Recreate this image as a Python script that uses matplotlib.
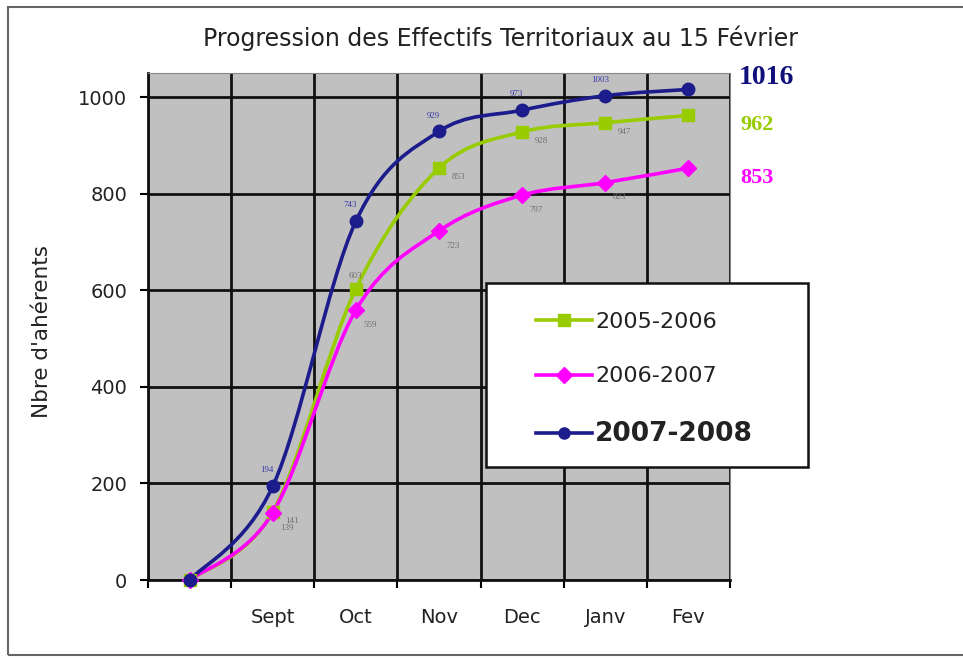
import matplotlib
matplotlib.use("Agg")
import matplotlib.pyplot as plt
from matplotlib.path import Path
from matplotlib.patches import PathPatch, Rectangle
from matplotlib.lines import Line2D

plt.rcParams['font.family'] = ['DejaVu Sans']

months = ['', 'Sept', 'Oct', 'Nov', 'Dec', 'Janv', 'Fev']
s0506 = [0, 141, 603, 853, 928, 947, 962]
s0607 = [0, 139, 559, 723, 797, 823, 853]
s0708 = [0, 194, 743, 929, 973, 1003, 1016]

c_green = '#99cc00'
c_pink = '#ff00ff'
c_blue = '#1c1c8c'


def smooth_path(xs, ys):
    # Excel-like smoothed line: cubic bezier through every point
    pts = list(zip(xs, ys))
    verts = [pts[0]]
    codes = [Path.MOVETO]
    n = len(pts)
    for i in range(n - 1):
        p0 = pts[i - 1] if i > 0 else pts[i]
        p1 = pts[i]
        p2 = pts[i + 1]
        p3 = pts[i + 2] if i + 2 < n else pts[i + 1]
        c1 = (p1[0] + (p2[0] - p0[0]) / 6, p1[1] + (p2[1] - p0[1]) / 6)
        c2 = (p2[0] - (p3[0] - p1[0]) / 6, p2[1] - (p3[1] - p1[1]) / 6)
        verts += [c1, c2, p2]
        codes += [Path.CURVE4] * 3
    return Path(verts, codes)


fig = plt.figure(figsize=(9.63, 6.58), dpi=100)
ax = fig.add_axes([148 / 963, 1 - 580 / 658, 582 / 963, 507 / 658])
ax.set_facecolor('#c0c0c0')

x = list(range(len(months)))
series = [
    (s0506, c_green, 's', '2005-2006'),
    (s0607, c_pink, 'D', '2006-2007'),
    (s0708, c_blue, 'o', '2007-2008'),
]
for vals, col, mk, lab in series:
    ax.add_patch(PathPatch(smooth_path(x, vals), facecolor='none', edgecolor=col,
                           lw=2.6, zorder=3, clip_on=False))
    ax.plot(x, vals, ls='none', marker=mk, color=col, ms=9 if mk != 'D' else 8,
            zorder=4, clip_on=False)

ax.set_xlim(-0.5, 6.5)
ax.set_ylim(0, 1050)
ax.set_yticks([0, 200, 400, 600, 800, 1000])
ax.set_xticks(x)
ax.set_xticklabels(months)
ax.set_xticks([i - 0.5 for i in range(len(months) + 1)], minor=True)
ax.tick_params(axis='x', which='major', length=0, pad=20, labelsize=14, labelcolor='#222222')
ax.tick_params(axis='x', which='minor', length=6, width=1.5, direction='out')
ax.tick_params(axis='y', length=6, width=1.5, labelsize=14, pad=9, labelcolor='#222222')
ax.grid(True, axis='x', which='minor', color='#111111', lw=2)
ax.grid(True, axis='y', which='major', color='#111111', lw=2)
ax.set_axisbelow(True)
for side in ['left', 'bottom']:
    ax.spines[side].set_linewidth(2)
    ax.spines[side].set_color('#111111')
for side in ['top', 'right']:
    ax.spines[side].set_color('#888888')
ax.set_ylabel("Nbre d'ahérents", fontsize=15.5, color='#222222')
ax.yaxis.set_label_coords(-0.165, 0.49)

# small data labels
lbl = dict(fontsize=6.5, family='Liberation Serif', zorder=5)
for i in range(1, 6):
    ax.annotate(str(s0708[i]), (x[i], s0708[i]), xytext=(-4, 10), textcoords='offset points',
                color='#3a3aa8', ha='center', **lbl)
for i in [1, 3, 4, 5]:
    ax.annotate(str(s0506[i]), (x[i], s0506[i]), xytext=(14, -8), textcoords='offset points',
                color='#707070', ha='center', **lbl)
ax.annotate(str(s0506[2]), (x[2], s0506[2]), xytext=(0, 8), textcoords='offset points',
            color='#707070', ha='center', **lbl)
for i in range(1, 6):
    ax.annotate(str(s0607[i]), (x[i], s0607[i]), xytext=(10, -12), textcoords='offset points',
                color='#707070', ha='center', **lbl)

# end values at the right
fig.text(739 / 963, 1 - 77 / 658, str(s0708[-1]), color='#10107a', fontsize=20,
         fontweight='bold', family='Liberation Serif', va='center')
fig.text(740 / 963, 1 - 125 / 658, str(s0506[-1]), color=c_green, fontsize=16,
         fontweight='bold', family='Liberation Serif', va='center')
fig.text(740 / 963, 1 - 178 / 658, str(s0607[-1]), color=c_pink, fontsize=16,
         fontweight='bold', family='Liberation Serif', va='center')

# legend
fig.patches.append(Rectangle((486 / 963, 1 - 467 / 658), 322 / 963, 184 / 658,
                             transform=fig.transFigure, facecolor='white',
                             edgecolor='#111111', lw=1.8, zorder=10))
handles = [Line2D([], [], color=col, lw=2.6, marker=mk, ms=8) for _, col, mk, _ in series]
leg = fig.legend(handles, [s[3] for s in series], loc='upper left',
                 bbox_to_anchor=(516 / 963, 1 - 292 / 658), frameon=False,
                 fontsize=16, handlelength=2.5, handletextpad=0.15, labelspacing=1.55,
                 labelcolor='#222222')
leg.set_zorder(11)
leg.get_texts()[2].set_fontweight('bold')
leg.get_texts()[2].set_fontsize(19)

fig.suptitle('Progression des Effectifs Territoriaux au 15 Février', fontsize=17,
             y=1 - 38 / 658, x=500 / 963, va='center', color='#222222')

# outer chart border
fig.patches.append(Rectangle((8 / 963, 1 - 655 / 658), 1.0, 648 / 658,
                             transform=fig.transFigure, facecolor='none',
                             edgecolor='#666666', lw=1.5))

fig.savefig('out.png', dpi=100)
